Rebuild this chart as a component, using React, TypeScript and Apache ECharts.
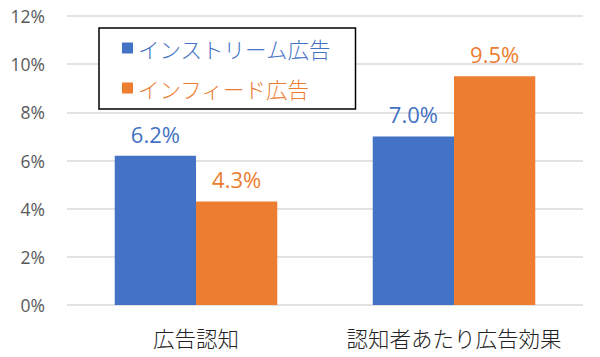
import React, { useEffect, useRef } from "react";
import * as echarts from "echarts";

const categories = ["広告認知", "認知者あたり広告効果"];
const seriesNames = ["インストリーム広告", "インフィード広告"];
const instreamValues = [6.2, 7.0];
const infeedValues = [4.3, 9.5];
const yTicks = [0, 2, 4, 6, 8, 10, 12];
const colors = ["#4472C4", "#ED7D31"];

export default function App() {
  const ref = useRef<HTMLDivElement>(null);
  useEffect(() => {
    if (!ref.current) return;
    const chart = echarts.init(ref.current, null, { renderer: "svg" });
    const jp = '"Noto Sans CJK JP", "Noto Sans", sans-serif';
    const label = (c: string) => ({
      show: true,
      position: "top",
      distance: 11,
      color: c,
      fontSize: 22,
      fontFamily: '"Open Sans", "Noto Sans", sans-serif',
      formatter: (p: any) => p.value.toFixed(1) + "%",
    });
    chart.setOption({
      animation: false,
      backgroundColor: "#ffffff",
      grid: { left: 67, right: 17, top: 16, bottom: 52 },
      legend: {
        orient: "vertical",
        left: 99,
        top: 28,
        backgroundColor: "#ffffff",
        borderColor: "#000000",
        borderWidth: 1.5,
        borderRadius: 0,
        padding: [9, 24, 10, 23],
        itemGap: 18,
        itemWidth: 11,
        itemHeight: 11,
        icon: "rect",
        textStyle: { fontSize: 21.5, fontFamily: jp, fontWeight: 300, lineHeight: 22 },
        data: seriesNames.map((n, i) => ({ name: n, textStyle: { color: colors[i] } })),
      },
      xAxis: {
        type: "category",
        data: categories,
        axisLine: { show: false },
        axisTick: { show: false },
        axisLabel: {
          interval: 0,
          margin: 22,
          fontSize: 21.5,
          fontWeight: 300,
          color: "#222222",
          fontFamily: jp,
        },
      },
      yAxis: {
        type: "value",
        min: yTicks[0],
        max: yTicks[yTicks.length - 1],
        interval: 2,
        axisLabel: {
          formatter: "{value}%",
          fontSize: 17.5,
          color: "#595959",
          margin: 22,
          fontFamily: '"Open Sans", "Noto Sans", sans-serif',
        },
        splitLine: { lineStyle: { color: "#d9d9d9", width: 1.5 } },
      },
      series: [
        {
          name: seriesNames[0],
          type: "bar",
          data: instreamValues,
          itemStyle: { color: colors[0] },
          barGap: "0%",
          barCategoryGap: "37%",
          label: label(colors[0]),
        },
        {
          name: seriesNames[1],
          type: "bar",
          data: infeedValues,
          itemStyle: { color: colors[1] },
          barGap: "0%",
          barCategoryGap: "37%",
          label: label(colors[1]),
        },
      ],
    });
    return () => chart.dispose();
  }, []);
  return <div ref={ref} style={{ width: 600, height: 357, margin: -8 }} />;
}
